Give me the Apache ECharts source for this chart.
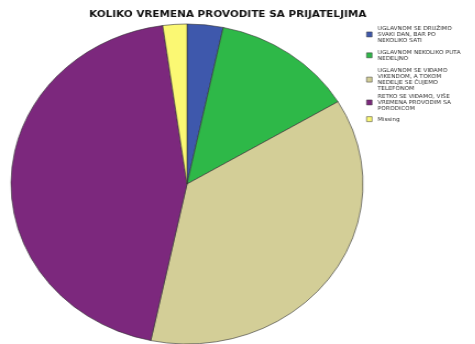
<!DOCTYPE html>
<html>
<head>
<meta charset="utf-8">
<script src="https://cdn.jsdelivr.net/npm/echarts@6/dist/echarts.min.js"></script>
<style>
  html, body { margin: 0; padding: 0; background: #fff; overflow: hidden; }
  /* the chart is drawn slightly widened, so the pie reads as a wide oval */
  #chart { width: 432px; height: 344px; transform: scaleX(1.1); transform-origin: 0 0; }
</style>
</head>
<body>
<div id="chart"></div>
<script>
const titleText = 'KOLIKO VREMENA PROVODITE SA PRIJATELJIMA';

const categories = [
  'UGLAVNOM SE DRUŽIMO\nSVAKI DAN, BAR PO\nNEKOLIKO SATI',
  'UGLAVNOM NEKOLIKO PUTA\nNEDELJNO',
  'UGLAVNOM SE VIĐAMO\nVIKENDOM, A TOKOM\nNEDELJE SE ČUJEMO\nTELEFONOM',
  'RETKO SE VIĐAMO, VIŠE\nVREMENA PROVODIM SA\nPORODICOM',
  'Missing'
];

// percent of respondents per answer
const values = [3.3, 13.1, 36.9, 44.5, 2.2];

const colors = ['#3E58AC', '#2EB848', '#D3CE97', '#7C287D', '#FBF873'];

const chart = echarts.init(document.getElementById('chart'), null, { renderer: 'canvas' });

const legendTops = [25, 49, 67, 93, 116];

const legends = categories.map((name, i) => ({
  show: true,
  orient: 'vertical',
  left: 333,
  top: legendTops[i],
  padding: 0,
  itemGap: 0,
  itemWidth: 5,
  itemHeight: 5,
  icon: 'rect',
  selectedMode: false,
  data: [name],
  itemStyle: { borderColor: '#333', borderWidth: 0.5 },
  textStyle: {
    fontFamily: 'DejaVu Sans, sans-serif',
    fontSize: 5.4,
    lineHeight: 6.3,
    color: '#333'
  }
}));

chart.setOption({
  animation: false,
  color: colors,
  title: {
    text: titleText,
    left: 207,
    top: 10,
    padding: 0,
    textAlign: 'center',
    textStyle: {
      fontFamily: 'DejaVu Sans, sans-serif',
      fontSize: 9.5,
      fontWeight: 'bold',
      color: '#111'
    }
  },
  legend: legends,
  series: [{
    type: 'pie',
    center: [170, 184],
    radius: 160,
    startAngle: 90,
    clockwise: true,
    label: { show: false },
    labelLine: { show: false },
    emphasis: { disabled: true },
    itemStyle: { borderColor: '#333', borderWidth: 0.6 },
    data: categories.map((name, i) => ({ name: name, value: values[i] }))
  }]
});
</script>
</body>
</html>
